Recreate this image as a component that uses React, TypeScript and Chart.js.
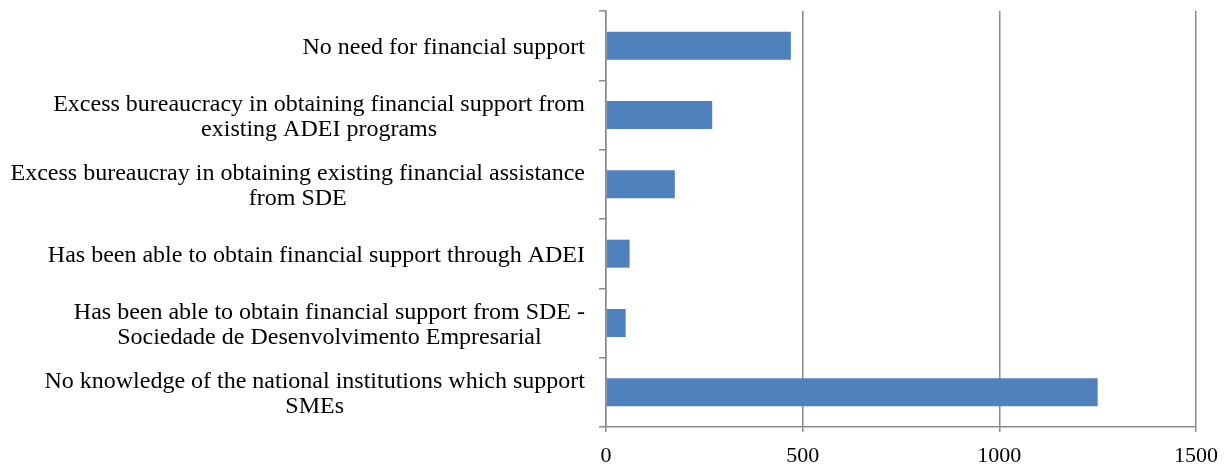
import React, { useEffect, useRef } from "react";
import { Chart, registerables } from "chart.js";

Chart.register(...registerables);

const categories: string[][] = [
  ["No need for financial support"],
  ["Excess bureaucracy in obtaining financial support from", "existing ADEI programs"],
  ["Excess bureaucray in obtaining existing financial assistance", "from SDE"],
  ["Has been able to obtain financial support through ADEI"],
  ["Has been able to obtain financial support from SDE -", "Sociedade de Desenvolvimento Empresarial"],
  ["No knowledge of the national institutions which support", "SMEs"],
];
const values: number[] = [470, 270, 175, 60, 50, 1250];
const xTicks: number[] = [0, 500, 1000, 1500];

const FONT = "'Liberation Serif', 'Times New Roman', serif";
const GRID = "#898989";

const labelPlugin = {
  id: "centeredYLabels",
  afterDraw(chart: any) {
    const ctx = chart.ctx;
    const y = chart.scales.y;
    const rightEdge = chart.chartArea.left - 21;
    const lineH = 25;
    ctx.save();
    ctx.font = `24px ${FONT}`;
    ctx.fillStyle = "#000";
    ctx.textAlign = "center";
    ctx.textBaseline = "middle";
    categories.forEach((lines, i) => {
      const py = y.getPixelForTick(i) + 2;
      const maxW = Math.max(...lines.map((l) => ctx.measureText(l).width));
      const cx = rightEdge - maxW / 2;
      lines.forEach((l, j) => {
        ctx.fillText(l, cx, py + (j - (lines.length - 1) / 2) * lineH);
      });
    });
    ctx.restore();
  },
};

export default function App() {
  const ref = useRef<HTMLCanvasElement | null>(null);
  useEffect(() => {
    if (!ref.current) return;
    const chart = new Chart(ref.current, {
      type: "bar",
      data: {
        labels: categories.map((c) => c.join(" ")),
        datasets: [
          {
            data: values,
            backgroundColor: "#4F81BD",
            borderWidth: 0,
            barPercentage: 0.404,
            categoryPercentage: 1,
          },
        ],
      },
      options: {
        indexAxis: "y",
        animation: false,
        responsive: true,
        maintainAspectRatio: false,
        layout: { padding: { top: 3, right: 23, bottom: 0, left: 0 } },
        plugins: { legend: { display: false }, tooltip: { enabled: false } },
        scales: {
          x: {
            min: 0,
            max: 1500,
            afterBuildTicks: (scale: any) => {
              scale.ticks = xTicks.map((v) => ({ value: v }));
            },
            afterFit: (scale: any) => {
              scale.height = 40;
              scale.paddingRight = 0;
              scale.paddingLeft = 0;
            },
            grid: {
              color: GRID,
              lineWidth: 1.5,
              tickLength: 5,
              drawOnChartArea: true,
            },
            border: { display: true, color: GRID, width: 1.5 },
            ticks: {
              color: "#000",
              font: { family: FONT, size: 22 },
              padding: 11,
              maxRotation: 0,
              callback: (v: any) => String(v),
            },
          },
          y: {
            afterFit: (scale: any) => {
              scale.width = 598;
              scale.paddingTop = 0;
              scale.paddingBottom = 0;
            },
            grid: {
              color: GRID,
              lineWidth: 1.5,
              tickLength: 7,
              drawOnChartArea: false,
              offset: true,
            },
            border: { display: true, color: GRID, width: 1.5 },
            ticks: { display: false },
          },
        },
      },
      plugins: [labelPlugin],
    });
    return () => chart.destroy();
  }, []);
  return (
    <div style={{ width: 1211, height: 459, position: "relative" }}>
      <canvas ref={ref} />
    </div>
  );
}
